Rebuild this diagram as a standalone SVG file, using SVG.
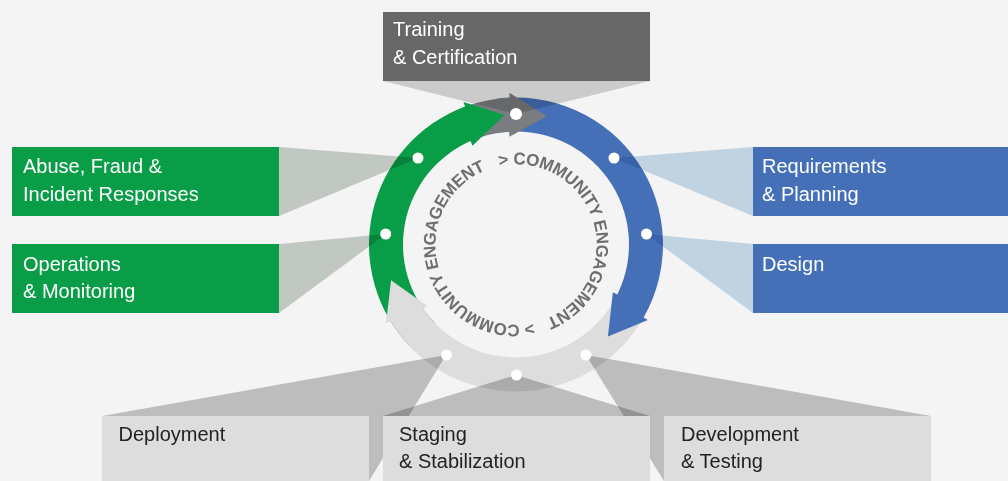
<svg xmlns="http://www.w3.org/2000/svg" width="1008" height="481" viewBox="0 0 1008 481">
<style>
.lbl{font-family:"Liberation Sans",Arial,sans-serif;font-size:20px;fill:#ffffff}
.dk{fill:#222222}
.wedge{mix-blend-mode:multiply}
.wg{fill:#c9d1ca}
.wb{fill:#caddeb}
.wk{fill:#c6c6c6}
.wt{fill:#d4d4d4}
.dot{fill:#ffffff}
.ce{font-family:"Liberation Sans",Arial,sans-serif;font-size:17px;font-weight:bold;fill:#6e6e6e;letter-spacing:-0.35px}
</style>
<defs>
<path id="tp" d="M499.37,166.25 A80,80 0 1 1 532.63,322.75 A80,80 0 1 1 499.37,166.25"/>
</defs>
<rect x="0" y="0" width="1008" height="481" fill="#f4f4f4"/>
<g id="cycle">
<path id="arrow-release" fill="#dddddd" d="M652.30,299.57 A147,147 0 0 1 390.33,320.76 L386.05,323.35 L391.04,280.33 L427.26,306.06 L423.15,308.91 A113,113 0 0 0 620.77,286.83 Z"/>
<path id="arrow-build" fill="#4570b8" d="M495.54,98.93 A147,147 0 0 1 643.62,317.44 L647.96,319.93 L607.92,336.42 L612.86,292.27 L617.35,294.48 A113,113 0 0 0 500.27,132.60 Z"/>
<path id="arrow-train" fill="#7a7d80" d="M470.57,104.69 A147,147 0 0 1 509.59,97.64 L509.37,92.64 L546.82,116.15 L509.41,136.70 L509.10,131.71 A113,113 0 0 0 481.08,137.03 Z"/>
<path id="arrow-operate" fill="#0a9d48" d="M410.26,346.62 A147,147 0 0 1 465.12,106.59 L463.39,101.90 L504.67,115.0 L472.50,145.65 L470.49,141.07 A113,113 0 0 0 434.71,323.00 Z"/>
<path fill="#dddddd" d="M465.72,382.63 A147,147 0 0 1 390.33,320.76 L386.05,323.35 L391.04,280.33 L427.26,306.06 L423.15,308.91 A113,113 0 0 0 477.35,350.69 Z"/>
<text class="ce"><textPath href="#tp">&gt; COMMUNITY ENGAGEMENT&#160;&#160; &gt; COMMUNITY ENGAGEMENT</textPath></text>
</g>
<g id="connectors">
<polygon class="wedge wt" points="516,114 383,81 650,81"/>
<polygon class="wedge wg" points="418,158 279,147 279,216"/>
<polygon class="wedge wg" points="386,234 279,244 279,313"/>
<polygon class="wedge wb" points="614,158 753,147 753,216"/>
<polygon class="wedge wb" points="646,234 753,244 753,313"/>
<polygon class="wedge wk" points="446,355 102,416 369,481"/>
<polygon class="wedge wk" points="516,375 383,416 650,416"/>
<polygon class="wedge wk" points="586,355 931,416 664,481"/>
</g>
<g id="dots">
<circle class="dot" cx="516" cy="114" r="6"/>
<circle class="dot" cx="614" cy="158" r="5.5"/>
<circle class="dot" cx="646.5" cy="234" r="5.5"/>
<circle class="dot" cx="586" cy="355" r="5.5"/>
<circle class="dot" cx="516.5" cy="375" r="5.5"/>
<circle class="dot" cx="446.5" cy="355" r="5.5"/>
<circle class="dot" cx="385.7" cy="234" r="5.5"/>
<circle class="dot" cx="418" cy="158" r="5.5"/>
</g>
<g id="node-training">
<rect x="383" y="12" width="267" height="69" fill="#666766"/>
<text class="lbl" x="393" y="35.5">Training</text>
<text class="lbl" x="393" y="63.5">&amp; Certification</text>
</g>
<g id="node-abuse">
<rect x="12" y="147" width="267" height="69" fill="#0a9d48"/>
<text class="lbl" x="23" y="173.3">Abuse, Fraud &amp;</text>
<text class="lbl" x="23" y="201">Incident Responses</text>
</g>
<g id="node-operations">
<rect x="12" y="244" width="267" height="69" fill="#0a9d48"/>
<text class="lbl" x="23" y="270.5">Operations</text>
<text class="lbl" x="23" y="297.5">&amp; Monitoring</text>
</g>
<g id="node-requirements">
<rect x="753" y="147" width="255" height="69" fill="#4570b8"/>
<text class="lbl" x="762" y="173.3">Requirements</text>
<text class="lbl" x="762" y="200.7">&amp; Planning</text>
</g>
<g id="node-design">
<rect x="753" y="244" width="255" height="69" fill="#4570b8"/>
<text class="lbl" x="762" y="270.5">Design</text>
</g>
<g id="node-deployment">
<rect x="102" y="416" width="267" height="65" fill="#dddddd"/>
<text class="lbl dk" x="118.5" y="440.5">Deployment</text>
</g>
<g id="node-staging">
<rect x="383" y="416" width="267" height="65" fill="#dddddd"/>
<text class="lbl dk" x="399" y="440.5">Staging</text>
<text class="lbl dk" x="399" y="468.3">&amp; Stabilization</text>
</g>
<g id="node-development">
<rect x="664" y="416" width="267" height="65" fill="#dddddd"/>
<text class="lbl dk" x="681" y="440.5">Development</text>
<text class="lbl dk" x="681" y="468.3">&amp; Testing</text>
</g>
</svg>
